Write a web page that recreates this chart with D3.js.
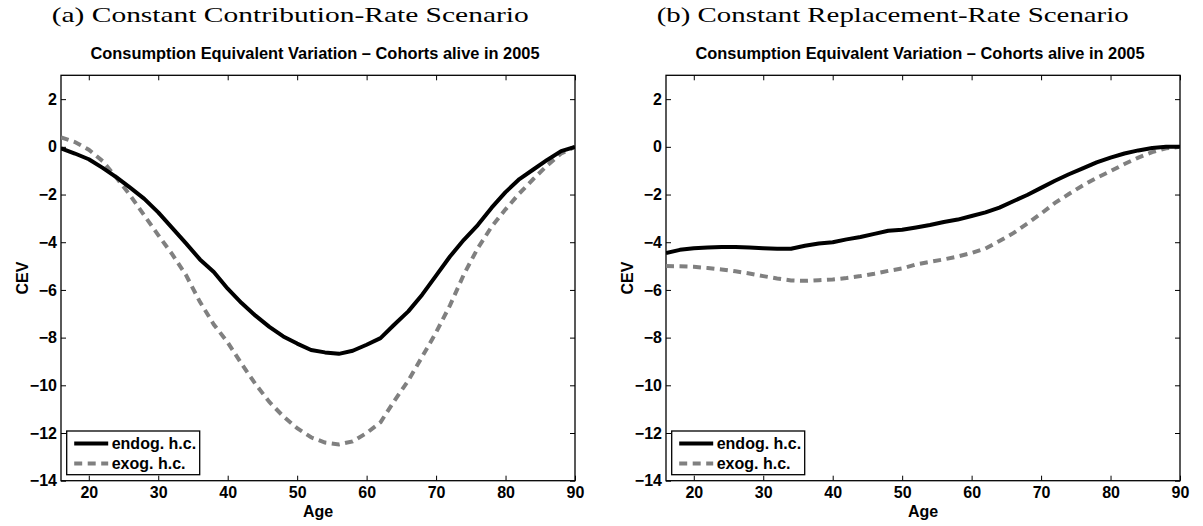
<!DOCTYPE html>
<html>
<head>
<meta charset="utf-8">
<script src="https://cdn.jsdelivr.net/npm/d3@7"></script>
<style>
  body { margin: 0; background: #fff; }
  svg { display: block; }
  .tick text { font-family: "Liberation Sans", Arial, sans-serif; font-weight: bold; font-size: 16px; fill: #000; }
  .tick line { stroke: #000; stroke-width: 1; }
</style>
</head>
<body>
<svg id="chart" width="1203" height="526"></svg>
<script>
// Ages on the x axis (every 2 years)
var ages = [16,18,20,22,24,26,28,30,32,34,36,38,40,42,44,46,48,50,52,
            54,56,58,60,62,64,66,68,70,72,74,76,78,80,82,84,86,88,90];

// (a) constant contribution rate
var contribEndog = [-0.06,-0.28,-0.52,-0.88,-1.28,-1.72,-2.18,-2.75,-3.40,-4.05,-4.72,-5.25,-5.95,-6.55,-7.08,-7.55,-7.95,-8.25,-8.52,
                    -8.62,-8.68,-8.55,-8.30,-8.02,-7.45,-6.90,-6.20,-5.40,-4.60,-3.90,-3.28,-2.55,-1.90,-1.35,-0.95,-0.55,-0.18,0.00];
var contribExog  = [0.40,0.20,-0.12,-0.60,-1.30,-2.05,-2.88,-3.70,-4.50,-5.38,-6.50,-7.45,-8.20,-9.10,-9.95,-10.70,-11.30,-11.80,-12.18,
                    -12.40,-12.48,-12.35,-12.00,-11.55,-10.65,-9.80,-8.80,-7.78,-6.65,-5.35,-4.25,-3.35,-2.62,-1.95,-1.35,-0.78,-0.28,0.00];

// (b) constant replacement rate
var replaceEndog = [-4.45,-4.32,-4.25,-4.22,-4.20,-4.20,-4.22,-4.25,-4.27,-4.27,-4.15,-4.05,-4.00,-3.88,-3.78,-3.65,-3.52,-3.48,-3.38,
                    -3.28,-3.15,-3.05,-2.90,-2.75,-2.55,-2.28,-2.02,-1.72,-1.42,-1.15,-0.90,-0.65,-0.45,-0.28,-0.15,-0.05,0.00,0.00];
var replaceExog  = [-5.00,-5.01,-5.03,-5.08,-5.14,-5.22,-5.31,-5.42,-5.52,-5.60,-5.62,-5.59,-5.56,-5.50,-5.42,-5.32,-5.20,-5.10,-4.93,
                    -4.82,-4.72,-4.60,-4.45,-4.26,-3.95,-3.62,-3.22,-2.80,-2.35,-1.98,-1.62,-1.30,-1.02,-0.72,-0.45,-0.22,-0.06,0.00];

var xTicks = [20,30,40,50,60,70,80,90];
var yTicks = [-14,-12,-10,-8,-6,-4,-2,0,2];
var seriesNames = ["endog. h.c.", "exog. h.c."];
var captions = ["(a) Constant Contribution-Rate Scenario", "(b) Constant Replacement-Rate Scenario"];
var plotTitle = "Consumption Equivalent Variation \u2013 Cohorts alive in 2005";

var svg = d3.select("#chart");
var plotTop = 75.3, plotBottom = 480.7;
var panels = [
    {left: 61, right: 575, caption: captions[0], endog: contribEndog, exog: contribExog},
    {left: 666, right: 1180, caption: captions[1], endog: replaceEndog, exog: replaceExog}
];

var minusFmt = d => (d < 0 ? "\u2212" + Math.abs(d) : "" + d);

panels.forEach((p, i) => {
    var x = d3.scaleLinear().domain([16, 90]).range([p.left, p.right]);
    var y = d3.scaleLinear().domain([-14, 3]).range([plotBottom, plotTop]);
    var g = svg.append("g");

    // caption above the panel
    g.append("text")
        .attr("x", p.left - 9.3)
        .attr("y", 21.5)
        .attr("textLength", i == 0 ? 477 : 472)
        .attr("lengthAdjust", "spacingAndGlyphs")
        .style("font-family", "'Liberation Serif', 'DejaVu Serif', serif")
        .style("font-size", "22px")
        .text(p.caption);

    // axes title
    g.append("text")
        .attr("x", (p.left + p.right) / 2 - 3)
        .attr("y", 59)
        .attr("text-anchor", "middle")
        .style("font-family", "'Liberation Sans', Arial, sans-serif")
        .style("font-weight", "bold")
        .style("font-size", "16.4px")
        .text(plotTitle);

    var clipId = "clip" + i;
    g.append("clipPath").attr("id", clipId)
        .append("rect")
        .attr("x", p.left).attr("y", plotTop)
        .attr("width", p.right - p.left).attr("height", plotBottom - plotTop);

    // ticks on all four sides, pointing inward
    g.append("g").attr("transform", `translate(0,${plotBottom})`)
        .call(d3.axisBottom(x).tickValues(xTicks).tickSizeInner(-5).tickSizeOuter(0).tickPadding(6))
        .call(a => a.select(".domain").remove());
    g.append("g").attr("transform", `translate(0,${plotTop})`)
        .call(d3.axisTop(x).tickValues(xTicks).tickSizeInner(-5).tickSizeOuter(0).tickFormat(""))
        .call(a => a.select(".domain").remove());
    g.append("g").attr("transform", `translate(${p.left},0)`)
        .call(d3.axisLeft(y).tickValues(yTicks).tickSizeInner(-5).tickSizeOuter(0).tickPadding(4).tickFormat(minusFmt))
        .call(a => a.select(".domain").remove());
    g.append("g").attr("transform", `translate(${p.right},0)`)
        .call(d3.axisRight(y).tickValues(yTicks).tickSizeInner(-5).tickSizeOuter(0).tickFormat(""))
        .call(a => a.select(".domain").remove());

    g.append("rect")
        .attr("x", p.left).attr("y", plotTop)
        .attr("width", p.right - p.left).attr("height", plotBottom - plotTop)
        .attr("fill", "none").attr("stroke", "#000").attr("stroke-width", 1.3);

    // axis labels
    g.append("text")
        .attr("transform", `translate(${p.left - 33},${(plotTop + plotBottom) / 2}) rotate(-90)`)
        .attr("text-anchor", "middle")
        .style("font-family", "'Liberation Sans', Arial, sans-serif")
        .style("font-weight", "bold").style("font-size", "16px")
        .text("CEV");
    g.append("text")
        .attr("x", (p.left + p.right) / 2)
        .attr("y", 517)
        .attr("text-anchor", "middle")
        .style("font-family", "'Liberation Sans', Arial, sans-serif")
        .style("font-weight", "bold").style("font-size", "16px")
        .text("Age");

    // lines
    var line = d3.line().x((d, k) => x(ages[k])).y(d => y(d));
    var lines = g.append("g").attr("clip-path", `url(#${clipId})`);
    lines.append("path").datum(p.exog)
        .attr("d", line)
        .attr("fill", "none").attr("stroke", "#808080").attr("stroke-width", 4)
        .attr("stroke-dasharray", "8,5.5");
    lines.append("path").datum(p.endog)
        .attr("d", line)
        .attr("fill", "none").attr("stroke", "#000").attr("stroke-width", 4)
        .attr("stroke-linejoin", "round");

    // legend
    var lx = p.left + 5.7, ly = 431;
    var leg = g.append("g");
    leg.append("rect")
        .attr("x", lx).attr("y", ly).attr("width", 133).attr("height", 43.7)
        .attr("fill", "#fff").attr("stroke", "#000").attr("stroke-width", 1.3);
    var legStyles = [{stroke: "#000", dash: null}, {stroke: "#808080", dash: "8,5.5"}];
    seriesNames.forEach((name, k) => {
        var yy = ly + 12.5 + k * 20;
        leg.append("line")
            .attr("x1", lx + 7.5).attr("x2", lx + 41.5)
            .attr("y1", yy).attr("y2", yy)
            .attr("stroke", legStyles[k].stroke).attr("stroke-width", 4)
            .attr("stroke-dasharray", legStyles[k].dash);
        leg.append("text")
            .attr("x", lx + 45).attr("y", yy + 5.5)
            .style("font-family", "'Liberation Sans', Arial, sans-serif")
            .style("font-weight", "bold").style("font-size", "16px")
            .text(name);
    });
});
</script>
</body>
</html>
